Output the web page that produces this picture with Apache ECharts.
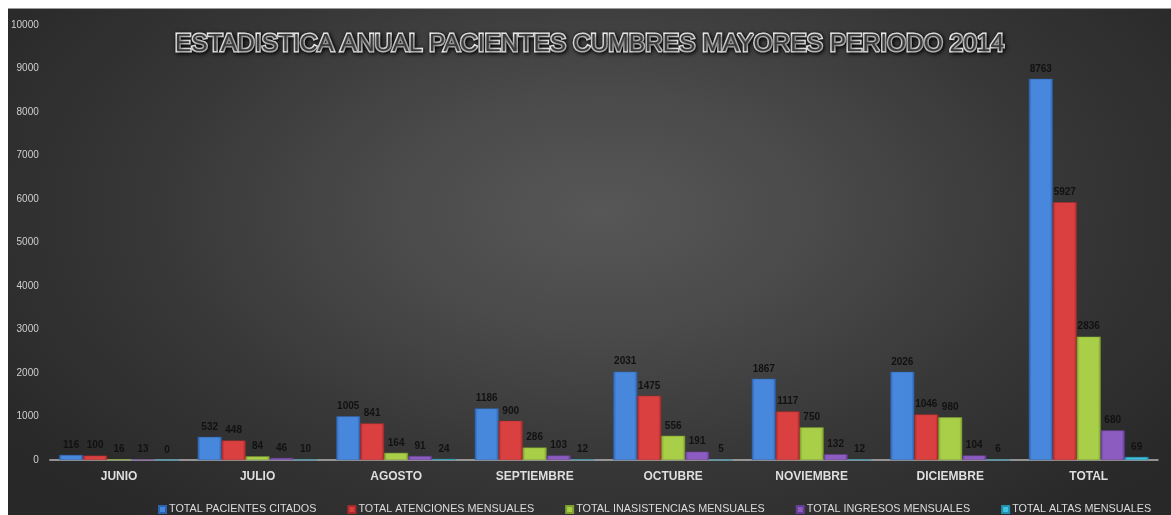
<!DOCTYPE html>
<html>
<head>
<meta charset="utf-8">
<script src="https://cdn.jsdelivr.net/npm/echarts@6/dist/echarts.min.js"></script>
<style>
  html, body { margin: 0; padding: 0; background: #ffffff; }
  #chart {
    position: absolute; left: 8px; top: 8px; width: 1163px; height: 507px;
    border-top: 1px solid #9a9a9a; box-sizing: border-box;
    background: radial-gradient(ellipse 62% 80% at 51% 40%, #575757 0%, #4a4a4a 30%, #363636 65%, #282828 100%);
  }
</style>
</head>
<body>
<div id="chart"></div>
<script>
// Monthly patient statistics, Cumbres Mayores, 2014
const categories = ['JUNIO', 'JULIO', 'AGOSTO', 'SEPTIEMBRE', 'OCTUBRE', 'NOVIEMBRE', 'DICIEMBRE', 'TOTAL'];
const pacientesCitados      = [116, 532, 1005, 1186, 2031, 1867, 2026, 8763];
const atencionesMensuales   = [100, 448, 841, 900, 1475, 1117, 1046, 5927];
const inasistencias         = [16, 84, 164, 286, 556, 750, 980, 2836];
const ingresosMensuales     = [13, 46, 91, 103, 191, 132, 104, 680];
const altasMensuales        = [0, 10, 24, 12, 5, 12, 6, 69];
const seriesNames = [
  'TOTAL PACIENTES CITADOS',
  'TOTAL ATENCIONES MENSUALES',
  'TOTAL INASISTENCIAS MENSUALES',
  'TOTAL INGRESOS MENSUALES',
  'TOTAL ALTAS MENSUALES'
];
const yTicks = { min: 0, max: 10000, interval: 1000 };

// bevel-like shading for each bar colour: [face, edge]
const palette = [
  ['#4787dc', '#2d62ad'],
  ['#d9403f', '#a82a2a'],
  ['#a8cf47', '#7fa12e'],
  ['#8c5cc0', '#643e95'],
  ['#3fc3e0', '#2391ad']
];
function shade(face, edge) {
  return new echarts.graphic.LinearGradient(0, 0, 1, 0, [
    { offset: 0, color: edge },
    { offset: 0.12, color: face },
    { offset: 0.88, color: face },
    { offset: 1, color: edge }
  ]);
}

const seriesData = [pacientesCitados, atencionesMensuales, inasistencias, ingresosMensuales, altasMensuales];

const chart = echarts.init(document.getElementById('chart'), null, { renderer: 'canvas' });
chart.setOption({
  animation: false,
  backgroundColor: 'transparent',
  title: {
    text: 'ESTADISTICA ANUAL PACIENTES CUMBRES MAYORES PERIODO 2014',
    left: 'center',
    top: 18,
    textStyle: {
      fontFamily: '"Liberation Sans", sans-serif',
      fontSize: 24.5,
      fontWeight: 'normal',
      color: '#3a3a3a',
      textBorderColor: '#ffffff',
      textBorderWidth: 3,
      textShadowColor: '#000000',
      textShadowBlur: 4,
      textShadowOffsetX: 1,
      textShadowOffsetY: 1
    }
  },
  legend: {
    data: seriesNames,
    left: 145,
    top: 490,
    icon: 'rect',
    itemWidth: 7,
    itemHeight: 7,
    itemGap: 31,
    textStyle: {
      color: '#dcdcdc',
      fontSize: 10.8,
      fontFamily: '"Liberation Sans", sans-serif',
      padding: [0, 0, 0, -2]
    }
  },
  grid: { left: 40, right: 13, top: 16, bottom: 55, containLabel: false },
  xAxis: {
    type: 'category',
    data: categories,
    axisLine: { show: true, lineStyle: { color: '#b5b5b5', width: 1.5 } },
    axisTick: { show: false },
    axisLabel: {
      color: '#dedede',
      fontWeight: 'bold',
      fontSize: 12,
      fontFamily: '"Liberation Sans", sans-serif',
      margin: 11
    }
  },
  yAxis: {
    type: 'value',
    min: yTicks.min,
    max: yTicks.max,
    interval: yTicks.interval,
    axisLine: { show: false },
    axisTick: { show: false },
    splitLine: { show: false },
    axisLabel: {
      color: '#cfcfcf',
      fontSize: 10,
      fontFamily: '"Liberation Sans", sans-serif',
      margin: 11,
      formatter: (v) => String(v)
    }
  },
  series: seriesData.map((values, i) => ({
    name: seriesNames[i],
    type: 'bar',
    data: values,
    barGap: '0%',
    barCategoryGap: '13.5%',
    itemStyle: {
      color: shade(palette[i][0], palette[i][1]),
      borderColor: palette[i][1],
      borderWidth: 0.5
    },
    label: {
      show: true,
      position: 'top',
      distance: 5,
      color: '#111111',
      fontWeight: 'bold',
      fontSize: 10,
      fontFamily: '"Liberation Sans", sans-serif'
    }
  }))
});
</script>
</body>
</html>
